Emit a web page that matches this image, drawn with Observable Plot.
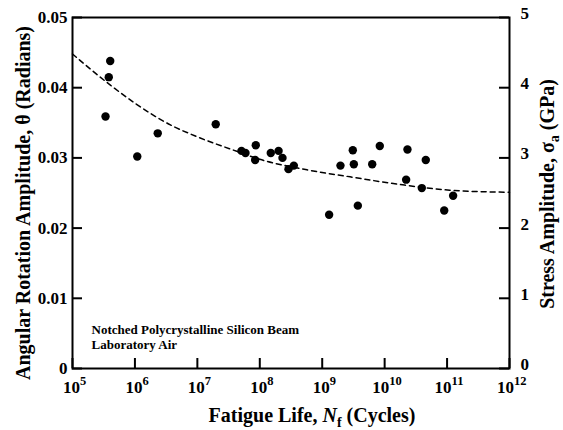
<!DOCTYPE html>
<html><head><meta charset="utf-8">
<script src="https://cdn.jsdelivr.net/npm/d3@7"></script>
<script src="https://cdn.jsdelivr.net/npm/@observablehq/plot@0.6"></script>
<style>html,body{margin:0;padding:0;background:#fff;}</style>
</head><body><div id="chart"></div>
<script>
// Data points: fatigue life (cycles) and angular rotation amplitude (radians)
const fatigueCycles = [3.38e5, 3.81e5, 4.02e5, 1.09e6, 2.32e6, 1.97e7, 5.09e7, 5.90e7, 8.63e7, 8.43e7,
  1.50e8, 2.00e8, 2.31e8, 2.88e8, 3.51e8, 1.29e9, 1.96e9, 3.09e9, 3.21e9, 3.72e9,
  6.32e9, 8.36e9, 2.32e10, 2.21e10, 4.56e10, 3.94e10, 9.0e10, 1.25e11];
const rotationAmplitude = [0.0359, 0.0415, 0.0438, 0.0302, 0.0335, 0.0348, 0.0310, 0.0307, 0.0318, 0.0297,
  0.0307, 0.0310, 0.0300, 0.0284, 0.0289, 0.0219, 0.0289, 0.0311, 0.0291, 0.0232,
  0.0291, 0.0317, 0.0312, 0.0269, 0.0297, 0.0257, 0.0225, 0.0246];
// Dashed fit curve
const fitCycles = [1e5, 4.0e5, 1e6, 3.7e6, 1e7, 4.4e7, 1e8, 5.7e8, 2.8e9, 1.8e10, 1.1e11, 1e12];
const fitAmplitude = [0.0448, 0.0404, 0.0378, 0.0347, 0.0330, 0.0309, 0.0298, 0.0283, 0.0273, 0.0262, 0.0254, 0.0251];
// Ticks
const thetaTicks = [0, 0.01, 0.02, 0.03, 0.04, 0.05];
const stressTicks = [0, 1, 2, 3, 4, 5];
const cycleExponents = [5, 6, 7, 8, 9, 10, 11, 12];
// Texts
const xTitle = "Fatigue Life, N_f (Cycles)";
const yTitle = "Angular Rotation Amplitude, θ (Radians)";
const y2Title = "Stress Amplitude, σ_a (GPa)";
const noteText = "Notched Polycrystalline Silicon Beam\nLaboratory Air";

const points = fatigueCycles.map((n, i) => ({n, theta: rotationAmplitude[i]}));
const fit = fitCycles.map((n, i) => ({n, theta: fitAmplitude[i]}));

const W = 563, H = 430, mL = 72, mR = 54, mT = 17, mB = 62;
const pw = W - mL - mR, ph = H - mT - mB;
const tick = 10;
const font = "'Liberation Serif', 'Times New Roman', Times, serif";

const chart = Plot.plot({
  width: W, height: H,
  marginLeft: mL, marginRight: mR, marginTop: mT, marginBottom: mB,
  x: {type: "log", domain: [1e5, 1e12], axis: null},
  y: {domain: [0, 0.05], axis: null},
  style: {fontFamily: font, fontWeight: "bold", background: "white", color: "black"},
  marks: [
    // inward ticks
    Plot.tickY(thetaTicks, {y: d => d, insetRight: pw - tick, stroke: "black", strokeWidth: 2}),
    Plot.tickY(stressTicks, {y: d => d / 100, insetLeft: pw - tick, stroke: "black", strokeWidth: 2}),
    Plot.tickX(cycleExponents, {x: d => 10 ** d, insetTop: ph - tick, stroke: "black", strokeWidth: 2}),
    Plot.frame({stroke: "black", strokeWidth: 2}),
    // tick labels
    Plot.text(thetaTicks, {y: d => d, text: d => d === 0 ? "0" : d.toFixed(2), frameAnchor: "left", textAnchor: "end", dx: -5, fontSize: 17, fontWeight: "bold"}),
    Plot.text(stressTicks, {y: d => d / 100, text: d => String(d), frameAnchor: "right", textAnchor: "start", dx: 11, dy: -4, fontSize: 17, fontWeight: "bold"}),
    Plot.text(cycleExponents.filter(e => e < 10), {x: d => 10 ** d, text: () => "10", frameAnchor: "bottom", textAnchor: "middle", dx: -1, dy: 24, fontSize: 17, fontWeight: "bold"}),
    Plot.text(cycleExponents.filter(e => e >= 10), {x: d => 10 ** d, text: () => "10", frameAnchor: "bottom", textAnchor: "middle", dx: -4, dy: 24, fontSize: 17, fontWeight: "bold"}),
    Plot.text(cycleExponents.filter(e => e < 10), {x: d => 10 ** d, text: d => String(d), frameAnchor: "bottom", textAnchor: "start", dx: 7.5, dy: 16, fontSize: 12.5, fontWeight: "bold"}),
    Plot.text(cycleExponents.filter(e => e >= 10), {x: d => 10 ** d, text: d => String(d), frameAnchor: "bottom", textAnchor: "start", dx: 4.5, dy: 16, fontSize: 12.5, fontWeight: "bold"}),
    // axis titles
    Plot.text([xTitle], {frameAnchor: "bottom", text: d => d, textAnchor: "middle", dx: 21, dy: 53, fontSize: 20, fontWeight: "bold"}),
    Plot.text([yTitle], {frameAnchor: "left", text: d => d, textAnchor: "middle", rotate: -90, dx: -49, dy: 10, fontSize: 20, fontWeight: "bold"}),
    Plot.text([y2Title], {frameAnchor: "right", text: d => d, textAnchor: "middle", rotate: -90, dx: 38, dy: 1, fontSize: 20, fontWeight: "bold"}),
    // annotation
    Plot.text([noteText], {frameAnchor: "bottom-left", text: d => d, textAnchor: "start", lineAnchor: "bottom", dx: 19, dy: -20, fontSize: 13, lineHeight: 1.12, fontWeight: "bold"}),
    // data
    Plot.line(fit, {x: "n", y: "theta", curve: "monotone-x", stroke: "black", strokeWidth: 1.5, strokeDasharray: "5,4"}),
    Plot.dot(points, {x: "n", y: "theta", r: 4.2, fill: "black", stroke: null})
  ]
});

// rich text: italic N with subscript f, subscript a
d3.select(chart).selectAll("text").each(function() {
  const t = this.textContent;
  if (t === xTitle) {
    this.innerHTML = 'Fatigue Life, <tspan font-style="italic">N</tspan><tspan font-size="14" dy="5">f</tspan><tspan dy="-5"> (Cycles)</tspan>';
  } else if (t === y2Title) {
    this.innerHTML = 'Stress Amplitude, σ<tspan font-size="14" dy="5">a</tspan><tspan dy="-5"> (GPa)</tspan>';
  }
});

document.getElementById("chart").appendChild(chart);
</script>
</body></html>
